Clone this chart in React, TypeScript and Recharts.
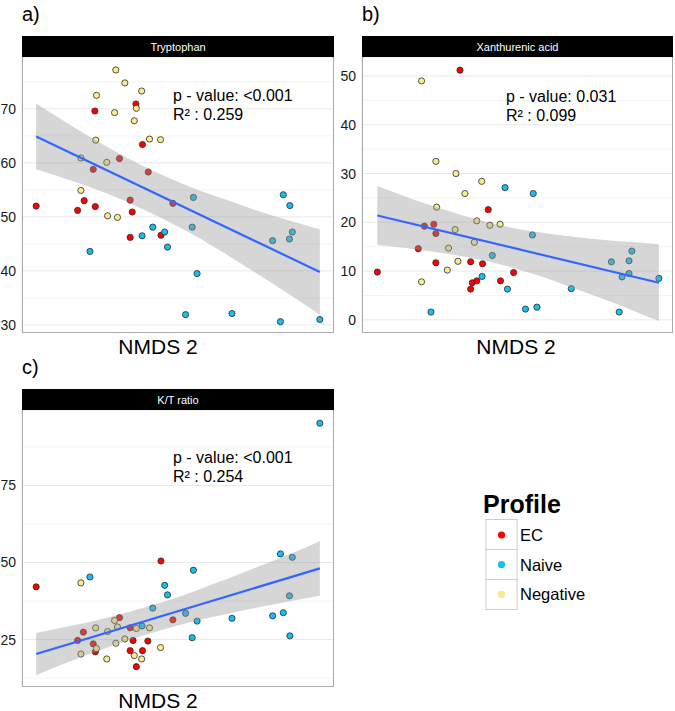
import React from "react";
import {
  ComposedChart,
  Scatter,
  Area,
  Line,
  XAxis,
  YAxis,
  CartesianGrid,
} from "recharts";

const FONT = '"Liberation Sans", Arial, Helvetica, sans-serif';

const profiles = ["EC", "Naive", "Negative"] as const;
const profileColors: Record<string, string> = {
  EC: "#ff0000",
  Naive: "#17bef0",
  Negative: "#f9ec8f",
};

// NMDS 2 axis (ticks hidden, grid only)
const xDomain: [number, number] = [-4.115, 3.485];
const xGrid = [-3, -2, -1, 0, 1, 2, 3];

type Pt = { x: number; y: number };
type Band = { x: number; lo: number; hi: number };

// ---- a) Tryptophan ----
const tryEC: Pt[] = [
  { x: -3.77, y: 52.0 }, { x: -2.34, y: 69.6 }, { x: -1.34, y: 70.9 },
  { x: -1.18, y: 63.4 }, { x: -1.74, y: 60.8 }, { x: -2.38, y: 58.8 },
  { x: -1.04, y: 58.3 }, { x: -2.6, y: 53.0 }, { x: -2.76, y: 51.2 },
  { x: -2.33, y: 51.9 }, { x: -1.48, y: 53.1 }, { x: -1.43, y: 50.9 },
  { x: -1.48, y: 46.2 }, { x: -0.73, y: 46.6 }, { x: -0.44, y: 52.5 },
];
const tryNaive: Pt[] = [
  { x: -2.46, y: 43.6 }, { x: -1.19, y: 46.5 }, { x: -0.93, y: 48.1 },
  { x: -0.64, y: 47.2 }, { x: -0.57, y: 44.4 }, { x: 0.06, y: 53.6 },
  { x: 0.03, y: 48.1 }, { x: 0.15, y: 39.5 }, { x: -0.13, y: 31.9 },
  { x: 1.0, y: 32.1 }, { x: 1.99, y: 45.6 }, { x: 2.25, y: 54.1 },
  { x: 2.41, y: 52.1 }, { x: 2.47, y: 47.2 }, { x: 2.4, y: 45.9 },
  { x: 2.18, y: 30.6 }, { x: 3.14, y: 31.0 },
];
const tryNeg: Pt[] = [
  { x: -1.83, y: 77.2 }, { x: -1.61, y: 74.8 }, { x: -2.3, y: 72.5 },
  { x: -1.2, y: 73.3 }, { x: -1.33, y: 70.1 }, { x: -1.86, y: 69.3 },
  { x: -1.38, y: 67.8 }, { x: -2.32, y: 64.2 }, { x: -1.01, y: 64.4 },
  { x: -0.74, y: 64.3 }, { x: -2.68, y: 60.9 }, { x: -2.05, y: 60.1 },
  { x: -2.68, y: 54.9 }, { x: -2.03, y: 50.2 }, { x: -1.79, y: 49.9 },
];
const tryFit: Pt[] = [{ x: -3.77, y: 64.9 }, { x: 3.14, y: 39.8 }];
const tryBand: Band[] = [
  { x: -3.77, lo: 58.8, hi: 71.0 }, { x: -3, lo: 56.9, hi: 67.3 },
  { x: -2, lo: 54.2, hi: 62.8 }, { x: -1, lo: 50.8, hi: 58.8 },
  { x: 0, lo: 46.9, hi: 55.5 }, { x: 1, lo: 42.4, hi: 52.8 },
  { x: 2, lo: 37.6, hi: 50.2 }, { x: 3, lo: 32.6, hi: 48.0 },
  { x: 3.14, lo: 31.9, hi: 47.7 },
];
const tryTicks = [30, 40, 50, 60, 70];
const tryMinor = [35, 45, 55, 65, 75];

// ---- b) Xanthurenic acid ----
const xanEC: Pt[] = [
  { x: -1.72, y: 51.2 }, { x: -1.03, y: 22.6 }, { x: -2.59, y: 19.2 },
  { x: -2.36, y: 19.6 }, { x: -2.31, y: 17.7 }, { x: -2.74, y: 14.6 },
  { x: -3.74, y: 9.8 }, { x: -2.31, y: 11.7 }, { x: -1.46, y: 11.9 },
  { x: -1.17, y: 11.5 }, { x: -0.41, y: 9.7 }, { x: -0.73, y: 8.0 },
  { x: -1.42, y: 7.6 }, { x: -1.31, y: 8.0 }, { x: -1.46, y: 6.3 },
];
const xanNaive: Pt[] = [
  { x: -0.62, y: 27.1 }, { x: 0.07, y: 25.9 }, { x: 0.05, y: 17.4 },
  { x: -0.93, y: 13.2 }, { x: -1.18, y: 8.9 }, { x: -0.56, y: 6.3 },
  { x: -2.43, y: 1.6 }, { x: -0.12, y: 2.2 }, { x: 0.16, y: 2.6 },
  { x: 1.0, y: 6.4 }, { x: 1.98, y: 11.9 }, { x: 2.41, y: 12.1 },
  { x: 2.48, y: 14.1 }, { x: 2.24, y: 8.8 }, { x: 2.41, y: 9.5 },
  { x: 2.17, y: 1.6 }, { x: 3.14, y: 8.5 },
];
const xanNeg: Pt[] = [
  { x: -2.66, y: 49.0 }, { x: -2.31, y: 32.5 }, { x: -1.82, y: 30.0 },
  { x: -1.19, y: 28.4 }, { x: -1.6, y: 25.9 }, { x: -2.29, y: 23.1 },
  { x: -1.31, y: 20.3 }, { x: -0.99, y: 19.4 }, { x: -0.74, y: 19.6 },
  { x: -1.84, y: 18.5 }, { x: -2.0, y: 14.7 }, { x: -1.37, y: 15.9 },
  { x: -1.77, y: 12.0 }, { x: -2.03, y: 10.2 }, { x: -2.66, y: 7.8 },
];
const xanFit: Pt[] = [{ x: -3.74, y: 21.4 }, { x: 3.14, y: 7.6 }];
const xanBand: Band[] = [
  { x: -3.74, lo: 15.35, hi: 27.45 }, { x: -3, lo: 14.7, hi: 25.1 },
  { x: -2, lo: 13.5, hi: 22.3 }, { x: -1, lo: 11.9, hi: 19.9 },
  { x: 0, lo: 9.6, hi: 18.2 }, { x: 1, lo: 6.7, hi: 17.1 },
  { x: 2, lo: 3.6, hi: 16.2 }, { x: 3, lo: 0.2, hi: 15.6 },
  { x: 3.14, lo: -0.25, hi: 15.45 },
];
const xanTicks = [0, 10, 20, 30, 40, 50];
const xanMinor = [5, 15, 25, 35, 45];

// ---- c) K/T ratio ----
const ktEC: Pt[] = [
  { x: -3.77, y: 42.1 }, { x: -0.73, y: 50.5 }, { x: -1.74, y: 32.1 },
  { x: -2.62, y: 27.4 }, { x: -2.76, y: 24.7 }, { x: -2.38, y: 23.6 },
  { x: -2.33, y: 21.0 }, { x: -1.48, y: 28.8 }, { x: -1.41, y: 24.7 },
  { x: -1.05, y: 24.5 }, { x: -1.48, y: 21.4 }, { x: -1.18, y: 21.4 },
  { x: -1.33, y: 16.2 }, { x: -0.44, y: 31.4 },
];
const ktNaive: Pt[] = [
  { x: -2.46, y: 45.3 }, { x: 0.06, y: 47.5 }, { x: -0.64, y: 42.6 },
  { x: -0.57, y: 39.5 }, { x: -0.93, y: 35.2 }, { x: -1.19, y: 29.4 },
  { x: -0.13, y: 33.5 }, { x: 0.15, y: 31.0 }, { x: 0.03, y: 25.6 },
  { x: 1.0, y: 31.9 }, { x: 1.99, y: 32.7 }, { x: 2.25, y: 33.7 },
  { x: 2.18, y: 52.8 }, { x: 2.47, y: 51.7 }, { x: 2.4, y: 39.2 },
  { x: 2.41, y: 26.2 }, { x: 3.14, y: 95.2 },
];
const ktNeg: Pt[] = [
  { x: -2.68, y: 43.4 }, { x: -1.86, y: 31.2 }, { x: -2.32, y: 28.8 },
  { x: -2.03, y: 27.6 }, { x: -1.79, y: 29.1 }, { x: -1.33, y: 28.6 },
  { x: -1.01, y: 28.8 }, { x: -1.61, y: 25.2 }, { x: -1.83, y: 23.8 },
  { x: -2.3, y: 22.1 }, { x: -2.68, y: 20.3 }, { x: -2.05, y: 18.7 },
  { x: -1.38, y: 19.8 }, { x: -1.2, y: 18.7 }, { x: -0.74, y: 22.4 },
];
const ktFit: Pt[] = [{ x: -3.77, y: 20.3 }, { x: 3.14, y: 48.1 }];
const ktBand: Band[] = [
  { x: -3.77, lo: 13.45, hi: 27.15 }, { x: -3, lo: 17.6, hi: 29.2 },
  { x: -2, lo: 22.55, hi: 32.25 }, { x: -1, lo: 26.95, hi: 35.85 },
  { x: 0, lo: 30.7, hi: 40.3 }, { x: 1, lo: 33.7, hi: 45.3 },
  { x: 2, lo: 36.4, hi: 50.6 }, { x: 3, lo: 38.9, hi: 56.1 },
  { x: 3.14, lo: 39.25, hi: 56.95 },
];
const ktTicks = [25, 50, 75];
const ktMinor = [12.5, 37.5, 62.5, 87.5];

const panels = [
  {
    key: "a", tag: "a)", title: "Tryptophan",
    left: 22, top: 57, width: 312, height: 276,
    domain: [28.5, 79.6] as [number, number], ticks: tryTicks, minor: tryMinor,
    groups: [tryEC, tryNaive, tryNeg], fit: tryFit, band: tryBand,
    stats: ["p - value: <0.001", "R² : 0.259"], statX: 173, statY: 101,
    xLabelX: 158,
  },
  {
    key: "b", tag: "b)", title: "Xanthurenic acid",
    left: 362, top: 57, width: 311, height: 276,
    domain: [-2.7, 53.9] as [number, number], ticks: xanTicks, minor: xanMinor,
    groups: [xanEC, xanNaive, xanNeg], fit: xanFit, band: xanBand,
    stats: ["p - value: 0.031", "R² : 0.099"], statX: 506, statY: 102,
    xLabelX: 516,
  },
  {
    key: "c", tag: "c)", title: "K/T ratio",
    left: 22, top: 410, width: 312, height: 277,
    domain: [9.6, 99.5] as [number, number], ticks: ktTicks, minor: ktMinor,
    groups: [ktEC, ktNaive, ktNeg], fit: ktFit, band: ktBand,
    stats: ["p - value: <0.001", "R² : 0.254"], statX: 173, statY: 463,
    xLabelX: 158,
  },
];

const AXIS_W = 30;
const STRIP_H = 21;

function Dot(props: any) {
  const { cx, cy, fill } = props;
  if (cx == null || cy == null) return null;
  return <circle cx={cx} cy={cy} r={3.1} fill={fill} stroke="#2b2b2b" strokeWidth={0.8} />;
}

function Panel({ p }: { p: (typeof panels)[number] }) {
  const rows = p.band.map((b) => {
    const f = p.fit.find((q) => q.x === b.x);
    return { x: b.x, band: [b.lo, b.hi], fit: f ? f.y : null };
  });
  return (
    <div style={{ position: "absolute", left: p.left - AXIS_W, top: p.top }}>
      <ComposedChart
        width={AXIS_W + p.width}
        height={p.height}
        data={rows}
        margin={{ top: 0, right: 0, bottom: 0, left: 0 }}
      >
        <XAxis
          type="number"
          dataKey="x"
          domain={xDomain}
          ticks={xGrid}
          interval={0}
          allowDataOverflow
          tick={false}
          tickLine={false}
          axisLine={false}
          height={0}
        />
        <YAxis
          type="number"
          domain={p.domain}
          ticks={p.ticks}
          interval={0}
          allowDataOverflow
          width={AXIS_W}
          axisLine={false}
          tickLine={false}
          tickSize={0}
          tickMargin={6}
          tick={{ fontSize: 14, fill: "#1a1a1a", fontFamily: FONT }}
        />
        <YAxis
          yAxisId="minor"
          type="number"
          domain={p.domain}
          ticks={p.minor}
          interval={0}
          allowDataOverflow
          hide
        />
        <CartesianGrid yAxisId="minor" vertical={false} stroke="#f1f1f1" strokeWidth={0.8} />
        <CartesianGrid stroke="#e9e9e9" strokeWidth={1} />
        {p.groups.map((g, i) => (
          <Scatter
            key={profiles[i]}
            data={g}
            dataKey="y"
            fill={profileColors[profiles[i]]}
            shape={Dot}
            isAnimationActive={false}
          />
        ))}
        <Area
          dataKey="band"
          type="monotone"
          stroke="none"
          fill="#999999"
          fillOpacity={0.4}
          isAnimationActive={false}
          zIndex={700}
        />
        <Line
          dataKey="fit"
          type="linear"
          stroke="#3366ff"
          strokeWidth={2.2}
          dot={false}
          connectNulls
          isAnimationActive={false}
          zIndex={800}
        />
      </ComposedChart>
    </div>
  );
}

export default function App() {
  return (
    <div
      style={{
        position: "absolute",
        left: 0,
        top: 0,
        width: 675,
        height: 711,
        background: "#fff",
        overflow: "hidden",
        fontFamily: FONT,
      }}
    >
      {panels.map((p) => (
        <Panel key={p.key} p={p} />
      ))}
      <svg
        width={675}
        height={711}
        style={{ position: "absolute", left: 0, top: 0, pointerEvents: "none" }}
        fontFamily={FONT}
      >
        {panels.map((p) => {
          const stripTop = p.top - STRIP_H;
          return (
            <g key={p.key}>
              <rect
                x={p.left + 0.5}
                y={stripTop + 0.5}
                width={p.width - 1}
                height={p.height + STRIP_H - 1}
                fill="none"
                stroke="#ababab"
              />
              <rect x={p.left} y={stripTop} width={p.width} height={STRIP_H} fill="#000" />
              <text
                x={p.left + p.width / 2}
                y={stripTop + STRIP_H / 2 + 4}
                fill="#fff"
                fontSize={11}
                textAnchor="middle"
              >
                {p.title}
              </text>
              <text x={p.left} y={stripTop - 15} fontSize={20} fill="#000">
                {p.tag}
              </text>
              <text x={p.statX} y={p.statY} fontSize={16} fill="#000">
                {p.stats[0]}
              </text>
              <text x={p.statX} y={p.statY + 19} fontSize={16} fill="#000">
                {p.stats[1]}
              </text>
              <text
                x={p.xLabelX}
                y={p.top + p.height + 21}
                fontSize={21}
                fill="#000"
                textAnchor="middle"
              >
                NMDS 2
              </text>
            </g>
          );
        })}
        <text x={483} y={513} fontSize={25} fontWeight="bold" fill="#000">
          Profile
        </text>
        {profiles.map((name, i) => (
          <g key={name}>
            <rect
              x={486}
              y={519.5 + i * 30}
              width={31}
              height={30}
              fill="#fff"
              stroke="#cccccc"
            />
            <circle cx={501.5} cy={535 + i * 29.7} r={3.6} fill={profileColors[name]} />
            <text x={520} y={541 + i * 29.7} fontSize={16.5} fill="#000">
              {name}
            </text>
          </g>
        ))}
      </svg>
    </div>
  );
}
